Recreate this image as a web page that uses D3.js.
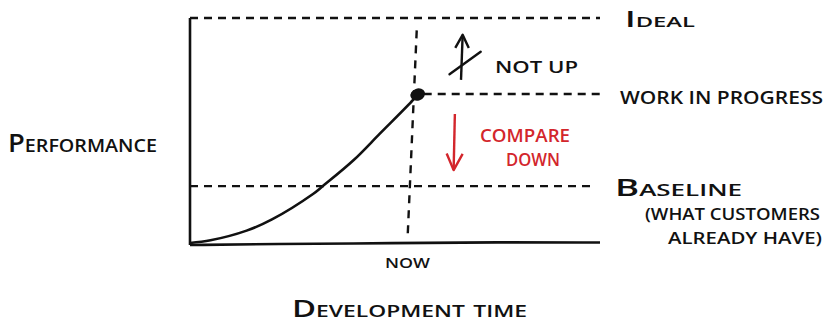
<!DOCTYPE html>
<html><head><meta charset="utf-8">
<script src="https://cdn.jsdelivr.net/npm/d3@7"></script>
<style>
html,body{margin:0;padding:0;background:#fff;}
text{font-family:"Open Sans","DejaVu Sans",sans-serif;font-weight:600;fill:#111;}
</style></head>
<body><svg id="c" width="826" height="324"></svg>
<script>
// ---- data ----
const levelNames = ["Ideal", "Work in progress", "Baseline"];
const levelValues = [100, 66.2, 25.3];
const levelStarts = [0, 57, 0];
const levelEnds = [100, 100, 98];
const nowTime = 54.4;
const curveTime = [0, 5, 13.8, 20, 30, 32.4, 40, 46.3, 54.4, 55.5];
const curvePerf = [0, 1.2, 5.5, 10.5, 21.8, 25.3, 37, 48.6, 63.6, 66.2];
const xAxisLabel = "Development time";
const yAxisLabel = "Performance";
const nowLabel = "Now";
const upNote = "Not up";
const downNote = ["Compare", "down"];
const baselineNote = ["(what customers", "already have)"];

// ---- layout ----
const svg = d3.select("#c");
const x = d3.scaleLinear().domain([0, 100]).range([190, 600]);
const y = d3.scaleLinear().domain([0, 100]).range([243, 18]);
const ink = "#111", red = "#d3262c";
const line = d3.line().x(d => x(d[0])).y(d => y(d[1]));

// axes
svg.append("path").attr("d", line([[0, 100], [0, -0.9]]))
  .attr("fill", "none").attr("stroke", ink).attr("stroke-width", 2.6);
svg.append("path").attr("d", d3.line().x(d => x(d[0])).y(d => y(d[1])).curve(d3.curveBasis)([[0, -0.9], [20, -0.4], [50, -0.1], [75, 0.4], [100, 0.2]]))
  .attr("fill", "none").attr("stroke", ink).attr("stroke-width", 2.6);

// level dashed lines
levelValues.forEach((v, i) => {
  svg.append("path").attr("d", line([[levelStarts[i], v], [levelEnds[i], v]]))
    .attr("fill", "none").attr("stroke", ink).attr("stroke-width", 2.4)
    .attr("stroke-dasharray", "8,6");
});

// now vertical dashed line
svg.append("path").attr("d", line([[nowTime + 0.9, 94.5], [nowTime - 1.3, 3.5]]))
  .attr("fill", "none").attr("stroke", ink).attr("stroke-width", 2.4)
  .attr("stroke-dasharray", "8,7");

// curve
const pts = curveTime.map((t, i) => [t, curvePerf[i]]);
svg.append("path").attr("d", d3.line().x(d => x(d[0])).y(d => y(d[1])).curve(d3.curveCatmullRom)(pts))
  .attr("fill", "none").attr("stroke", ink).attr("stroke-width", 2.6);
const last = pts[pts.length - 1];
svg.append("ellipse").attr("cx", x(last[0])).attr("cy", y(last[1]) + 0.5)
  .attr("rx", 7.5).attr("ry", 6).attr("transform", `rotate(-20 ${x(last[0])} ${y(last[1])})`).attr("fill", ink);

// up arrow (not up)
const ua = 66.3;
svg.append("path").attr("d", line([[ua - 0.2, 72.5], [ua + 0.2, 92.5]]))
  .attr("fill", "none").attr("stroke", ink).attr("stroke-width", 2.4);
svg.append("path").attr("d", line([[ua - 1.6, 86.7], [ua + 0.2, 92.5], [ua + 1.7, 86.7]]))
  .attr("fill", "none").attr("stroke", ink).attr("stroke-width", 2.4).attr("stroke-linejoin", "round");
svg.append("path").attr("d", line([[ua - 3, 75], [ua + 4.6, 85]]))
  .attr("fill", "none").attr("stroke", ink).attr("stroke-width", 2.4).attr("stroke-linecap", "round");

// red down arrow
const da = 64.4;
svg.append("path").attr("d", line([[da + 0.2, 57.3], [da - 0.1, 32.4]]))
  .attr("fill", "none").attr("stroke", red).attr("stroke-width", 2.4);
svg.append("path").attr("d", line([[da - 1.8, 39.8], [da - 0.1, 32.4], [da + 2.1, 39.6]]))
  .attr("fill", "none").attr("stroke", red).attr("stroke-width", 2.4).attr("stroke-linejoin", "round");

// text helper
function label(str, px, py, size, len, opts = {}) {
  const t = svg.append("text").attr("x", px).attr("y", py)
    .attr("font-size", size).text(str)
    .attr("textLength", len).attr("lengthAdjust", "spacingAndGlyphs");
  if (opts.sc) t.style("font-variant", "small-caps"); else t.text(str.toUpperCase());
  if (opts.fill) t.style("fill", opts.fill);
  return t;
}

// level labels
label(levelNames[0], 625, 27, 22, 70, {sc: true});
label(levelNames[1], 620, 104, 18.5, 203);
label(levelNames[2], 615, 196, 24, 127, {sc: true});
label(baselineNote[0], 645, 220, 17, 175);
label(baselineNote[1], 668, 244, 17, 154);

// annotations
label(upNote, 495, 73, 16.5, 83);
label(downNote[0], 480, 142, 18, 90, {fill: red});
label(downNote[1], 506, 166, 18, 54, {fill: red});

// axis titles
label(yAxisLabel, 8, 152, 25, 149, {sc: true});
label(nowLabel, x(nowTime) - 28, 268, 15, 45);
label(xAxisLabel, 292, 317, 23, 235, {sc: true});
</script></body></html>
